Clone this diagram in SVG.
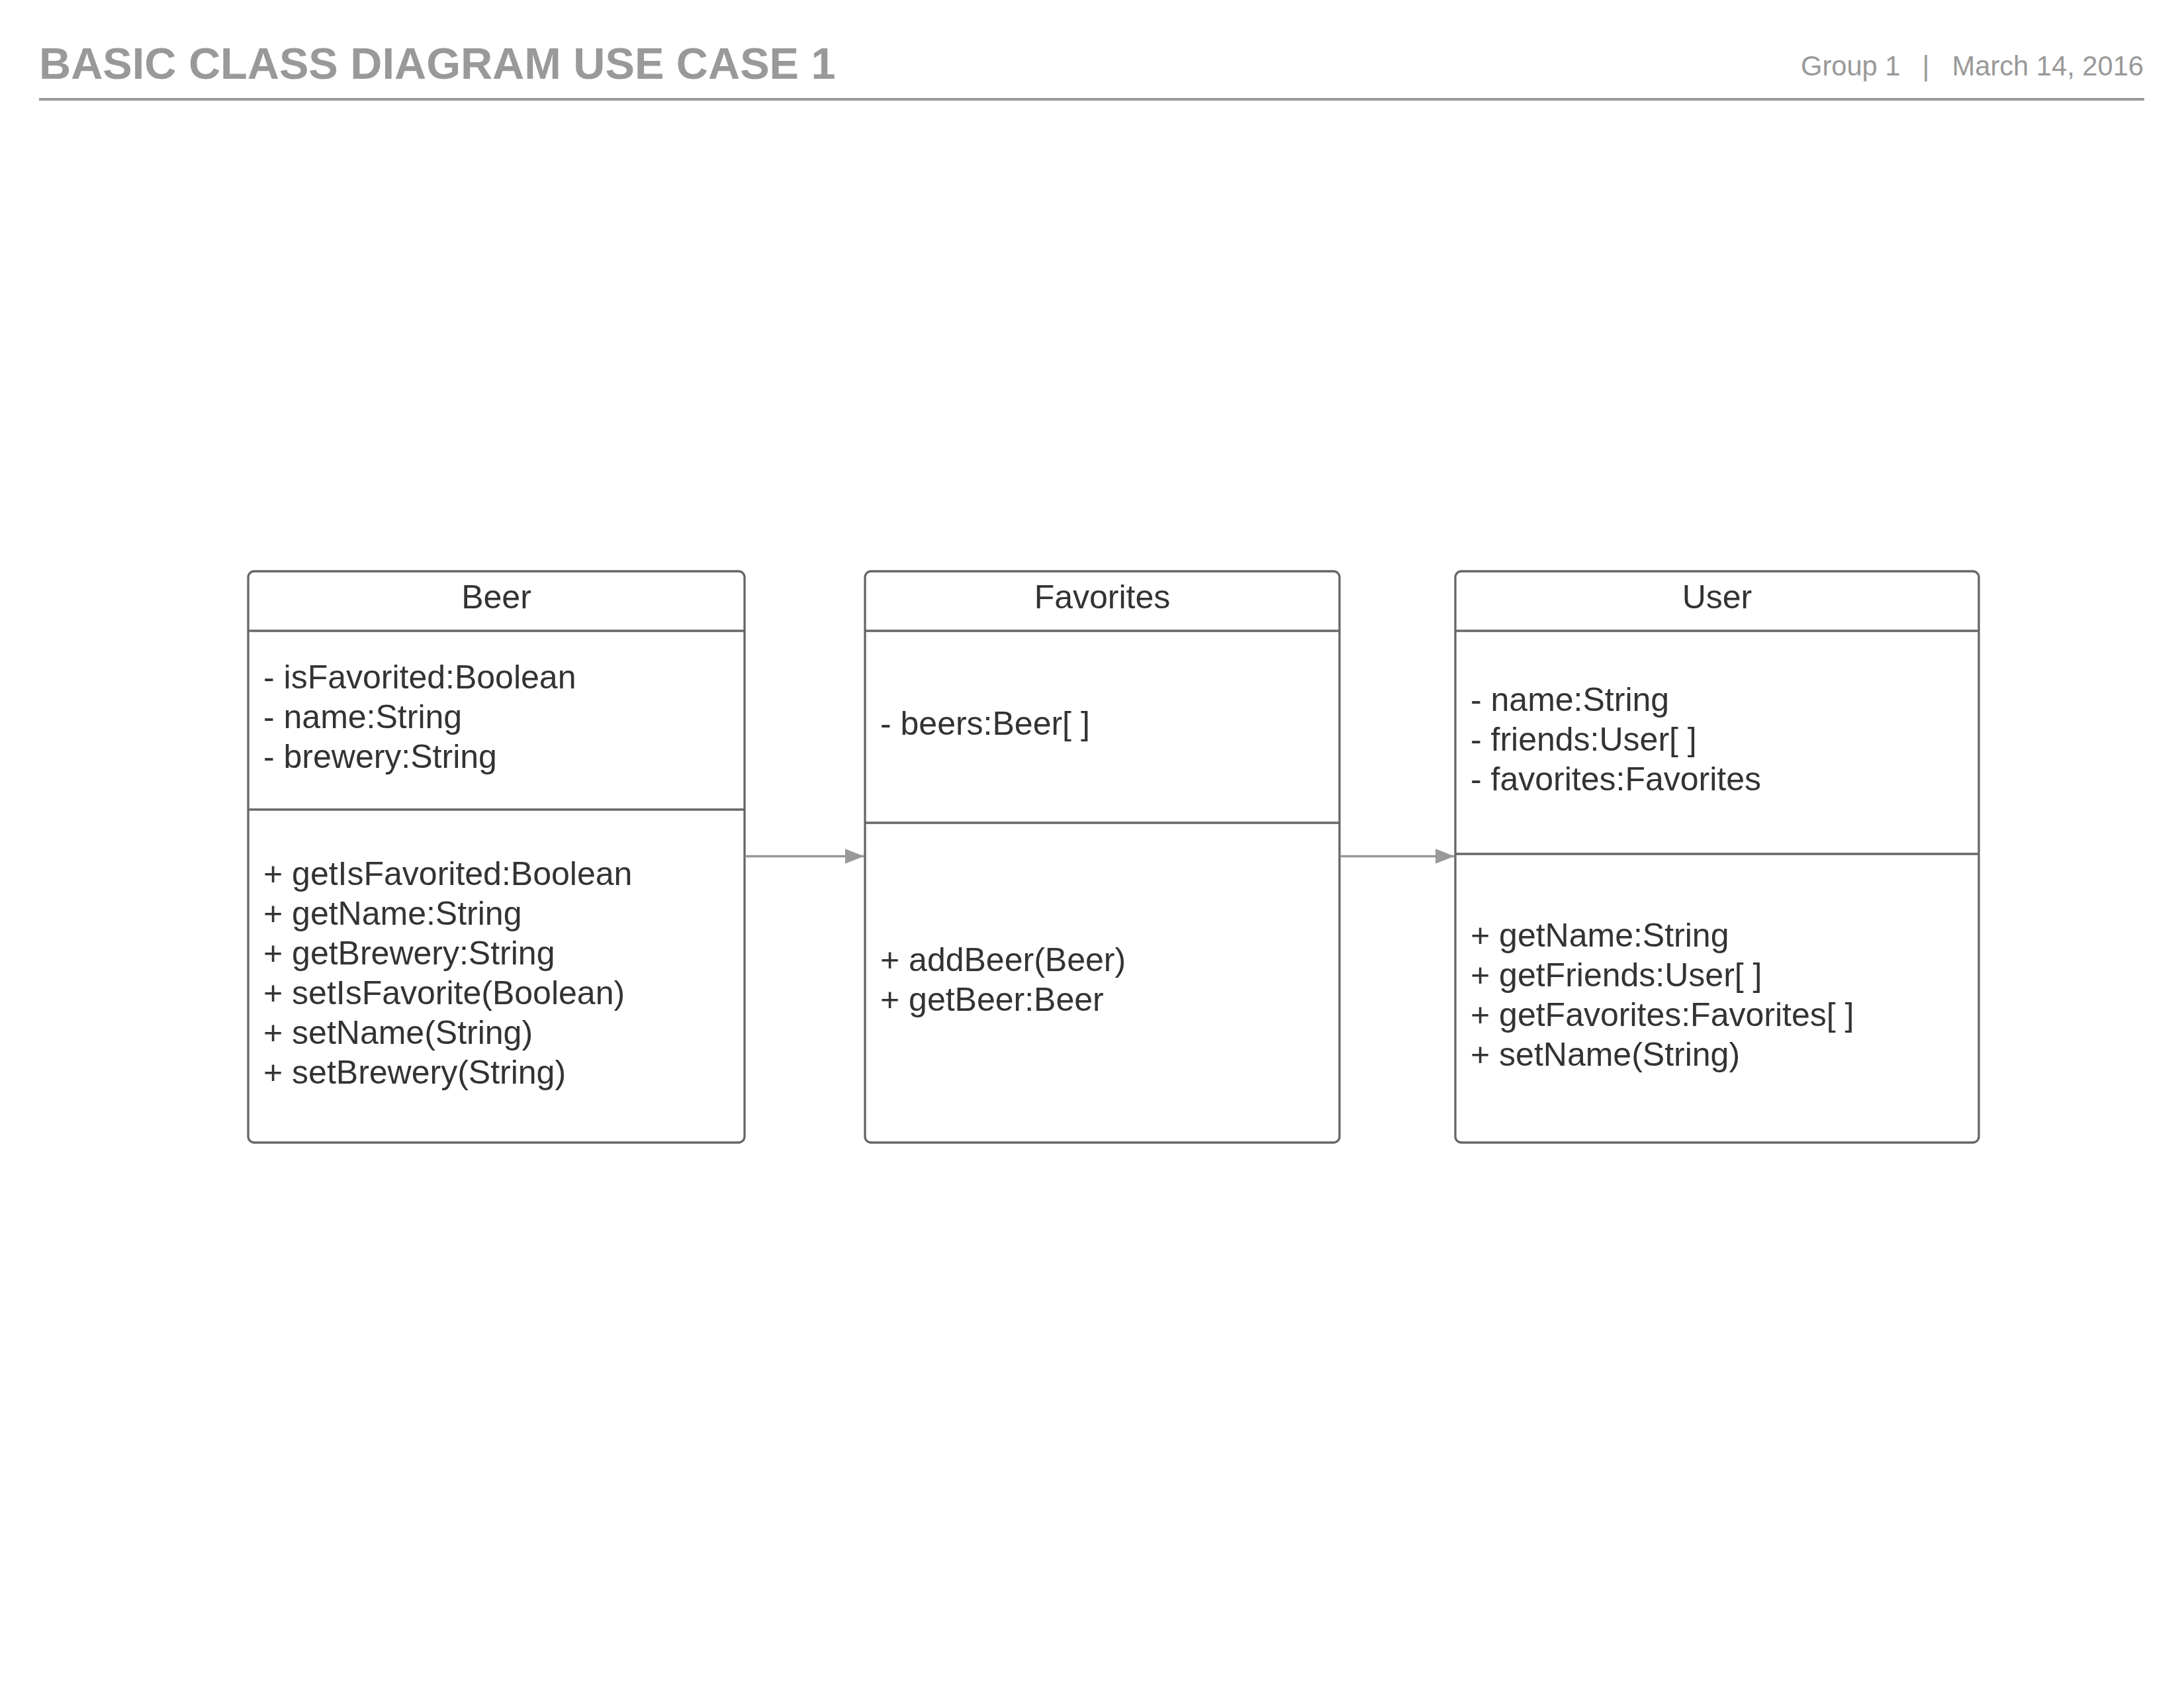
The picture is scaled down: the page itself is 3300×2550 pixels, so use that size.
<svg xmlns="http://www.w3.org/2000/svg" width="3300" height="2550" viewBox="0 0 3300 2550">
  <style>
    .hdr { font-family: "Liberation Sans", Arial, sans-serif; fill: #999999; }
    .title { font-size: 66.67px; font-weight: bold; }
    .meta { font-size: 41.67px; }
    .box { fill: #ffffff; stroke: #666666; stroke-width: 3.3; }
    .div { stroke: #666666; stroke-width: 3.3; fill: none; }
    .t { font-family: "Liberation Sans", Arial, sans-serif; font-size: 50px; fill: #333333; }
    .c { text-anchor: middle; }
    .conn { stroke: #999999; stroke-width: 3.7; fill: none; }
  </style>
  <defs>
    <marker id="arrow" viewBox="0 0 29 23" refX="29" refY="11.5" markerWidth="29" markerHeight="23" markerUnits="userSpaceOnUse" orient="auto">
      <path d="M0,0 L29,11.5 L0,23 Z" fill="#999999"/>
    </marker>
  </defs>
  <rect x="0" y="0" width="3300" height="2550" fill="#ffffff"/>

  <g id="header">
    <text class="hdr title" x="59" y="119">BASIC CLASS DIAGRAM USE CASE 1</text>
    <text class="hdr meta" x="2721" y="114">Group 1</text>
    <text class="hdr meta" x="2910" y="114" text-anchor="middle">|</text>
    <text class="hdr meta" x="3239" y="114" text-anchor="end">March 14, 2016</text>
    <line x1="59" y1="150" x2="3240" y2="150" stroke="#999999" stroke-width="4"/>
  </g>

  <g id="beer">
    <rect class="box" x="375" y="863" width="750" height="863" rx="9" ry="9"/>
    <line class="div" x1="375" y1="953" x2="1125" y2="953"/>
    <line class="div" x1="375" y1="1223" x2="1125" y2="1223"/>
    <text class="t c" x="750" y="919">Beer</text>
    <text class="t" x="398">
      <tspan x="398" y="1040">- isFavorited:Boolean</tspan>
      <tspan x="398" y="1100">- name:String</tspan>
      <tspan x="398" y="1160">- brewery:String</tspan>
    </text>
    <text class="t" x="398">
      <tspan x="398" y="1336.5">+ getIsFavorited:Boolean</tspan>
      <tspan x="398" y="1396.5">+ getName:String</tspan>
      <tspan x="398" y="1456.5">+ getBrewery:String</tspan>
      <tspan x="398" y="1516.5">+ setIsFavorite(Boolean)</tspan>
      <tspan x="398" y="1576.5">+ setName(String)</tspan>
      <tspan x="398" y="1636.5">+ setBrewery(String)</tspan>
    </text>
  </g>

  <g id="favorites">
    <rect class="box" x="1307" y="863" width="717" height="863" rx="9" ry="9"/>
    <line class="div" x1="1307" y1="953" x2="2024" y2="953"/>
    <line class="div" x1="1307" y1="1243" x2="2024" y2="1243"/>
    <text class="t c" x="1665.5" y="919">Favorites</text>
    <text class="t" x="1330" y="1110">- beers:Beer[ ]</text>
    <text class="t" x="1330">
      <tspan x="1330" y="1467">+ addBeer(Beer)</tspan>
      <tspan x="1330" y="1527">+ getBeer:Beer</tspan>
    </text>
  </g>

  <g id="user">
    <rect class="box" x="2199" y="863" width="791" height="863" rx="9" ry="9"/>
    <line class="div" x1="2199" y1="953" x2="2990" y2="953"/>
    <line class="div" x1="2199" y1="1290" x2="2990" y2="1290"/>
    <text class="t c" x="2594.5" y="919">User</text>
    <text class="t" x="2222">
      <tspan x="2222" y="1073.5">- name:String</tspan>
      <tspan x="2222" y="1133.5">- friends:User[ ]</tspan>
      <tspan x="2222" y="1193.5">- favorites:Favorites</tspan>
    </text>
    <text class="t" x="2222">
      <tspan x="2222" y="1430">+ getName:String</tspan>
      <tspan x="2222" y="1490">+ getFriends:User[ ]</tspan>
      <tspan x="2222" y="1550">+ getFavorites:Favorites[ ]</tspan>
      <tspan x="2222" y="1610">+ setName(String)</tspan>
    </text>
  </g>

  <g id="connectors">
    <line class="conn" x1="1127" y1="1293.5" x2="1305.5" y2="1293.5" marker-end="url(#arrow)"/>
    <line class="conn" x1="2026" y1="1293.5" x2="2197.5" y2="1293.5" marker-end="url(#arrow)"/>
  </g>
</svg>
